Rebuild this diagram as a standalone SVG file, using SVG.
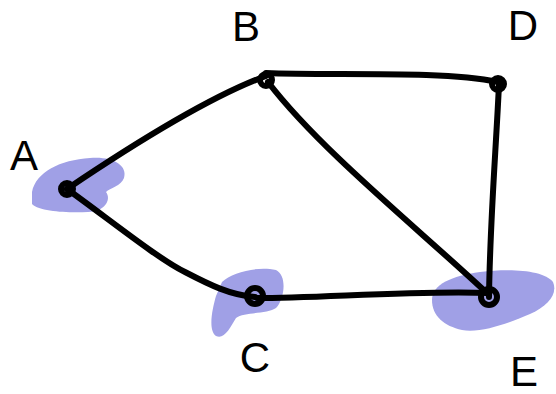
<svg xmlns="http://www.w3.org/2000/svg" width="556" height="394" viewBox="0 0 556 394">
<style>
.hl{fill:#a0a0e6;stroke:none}
.edge{fill:none;stroke:#000;stroke-width:6;stroke-linecap:round;stroke-linejoin:round}
.node{fill:none;stroke:#000;stroke-width:6}
.lbl{font-family:"Liberation Sans",Arial,sans-serif;font-size:42px;fill:#000;text-anchor:middle}
</style>
<rect width="556" height="394" fill="#fff"/>
<g id="highlights">
<path class="hl" d="M32,192 C36,172 60,160 90,158 C112,156 128,165 124,178 C121,186 110,188 106,192 C112,200 104,212 88,212 C70,213 40,212 32,204 Z"/>
<path class="hl" d="M222,282 C232,272 258,266 276,270 C288,276 284,300 276,308 C268,314 244,312 236,318 C230,328 224,340 216,336 C208,330 212,310 216,296 Z"/>
<path class="hl" d="M432,300 C432,284 452,276 480,272 C510,268 544,270 553,282 C558,294 548,306 530,314 C512,322 480,334 462,330 C444,326 432,316 432,300 Z"/>
</g>
<g id="edges">
<path class="edge" d="M67,189 C110,160 200,100 266,76"/>
<path class="edge" d="M67,189 C110,220 160,260 185,272 C210,285 230,295 255,297"/>
<path class="edge" d="M266,73 C330,76 440,70 498,82"/>
<path class="edge" d="M268,82 C320,150 420,230 489,295"/>
<path class="edge" d="M499,84 C496,150 490,220 489,297"/>
<path class="edge" d="M257,298 C320,298 420,290 489,293"/>
</g>
<g id="node-A"><circle class="node" cx="67" cy="189" r="6"/><text class="lbl" x="24" y="170">A</text></g>
<g id="node-B"><circle class="node" cx="266" cy="80" r="6"/><text class="lbl" x="246" y="41">B</text></g>
<g id="node-D"><circle class="node" cx="498" cy="84" r="6"/><text class="lbl" x="523" y="40">D</text></g>
<g id="node-C"><circle class="node" cx="255" cy="296" r="8"/><text class="lbl" x="255" y="372">C</text></g>
<g id="node-E"><circle class="node" cx="489" cy="297" r="8"/><text class="lbl" x="524" y="386">E</text></g>
</svg>
